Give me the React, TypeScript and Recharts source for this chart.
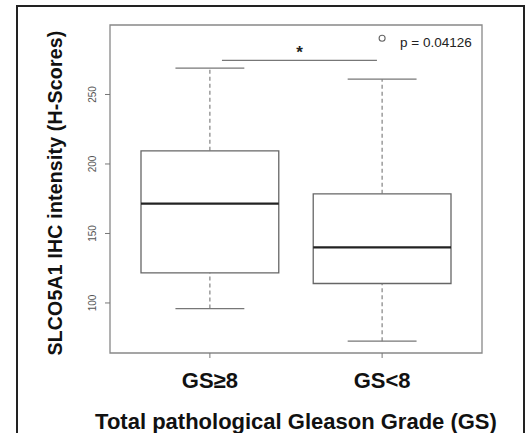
import { ComposedChart, XAxis, YAxis, ReferenceArea, ReferenceLine, Scatter } from 'recharts';

// box plot summary per group (H-scores)
const groups = ['GS≥8', 'GS<8'];
const positions = [1, 2];
const lowerWhisker = [96, 72.5];
const q1 = [121.7, 114];
const medians = [171.5, 140];
const q3 = [209.5, 178.5];
const upperWhisker = [269, 261];
const outliers = [{ x: 2, y: 290.5 }];

const yTicks = [100, 150, 200, 250];
const yDomain = [64, 300];
const xDomain = [0.42, 2.58];

const sigBar = { x1: 1.07, x2: 1.97, y: 274.5, label: '*' };
const pText = 'p = 0.04126';

const FONT = '"Liberation Sans", Arial, Helvetica, sans-serif';
const BOX = 0.4;
const CAP = 0.2;

const YTick = (props: any) => {
  const { x, y, payload } = props;
  return (
    <text x={x - 7} y={y} transform={`rotate(-90, ${x - 7}, ${y})`} textAnchor="middle"
      fontSize={10} fill="#555" fontFamily={FONT}>{payload.value}</text>
  );
};

export default function App() {
  return (
    <div style={{ position: 'absolute', left: 0, top: 0, width: 530, height: 433, background: '#fff', fontFamily: FONT }}>
      <div style={{ position: 'absolute', left: 16, top: 5, width: 505, height: 428, borderTop: '2px solid #222', borderLeft: '2px solid #222', borderRight: '2px solid #222' }} />
      <ComposedChart width={530} height={433} margin={{ top: 25, right: 48, bottom: 0, left: 0 }}>
        <XAxis type="number" dataKey="x" domain={xDomain} ticks={positions} allowDataOverflow
          tickFormatter={(v: number) => groups[positions.indexOf(v)] ?? ''}
          axisLine={false} tickSize={5} tickMargin={14} height={80}
          tickLine={{ stroke: '#777' }}
          tick={{ fontSize: 22, fontWeight: 'bold', fill: '#111', fontFamily: FONT }}
          label={{
            content: (p: any) => (
              <text x={p.viewBox.x + p.viewBox.width / 2} y={p.viewBox.y + 76} textAnchor="middle"
                fontSize={22} fontWeight="bold" fill="#111" fontFamily={FONT}>
                Total pathological Gleason Grade (GS)
              </text>
            ),
          }} />
        <YAxis type="number" domain={yDomain} ticks={yTicks} allowDataOverflow width={110}
          axisLine={false} tickSize={5} tickLine={{ stroke: '#777' }} tick={<YTick />}
          label={{
            content: () => (
              <text x={62} y={193} transform="rotate(-90, 62, 193)" textAnchor="middle"
                fontSize={19.5} fontWeight="bold" fill="#111" fontFamily={FONT} letterSpacing={0.2}>
                SLCO5A1 IHC intensity (H-Scores)
              </text>
            ),
          }} />

        {/* plot frame */}
        <ReferenceArea x1={xDomain[0]} x2={xDomain[1]} y1={yDomain[0]} y2={yDomain[1]}
          fill="none" stroke="#888" strokeWidth={1.3} />

        {positions.map((pos, i) => [
          <ReferenceLine key={`uw${i}`} segment={[{ x: pos, y: q3[i] }, { x: pos, y: upperWhisker[i] }]}
            stroke="#777" strokeDasharray="4 3" strokeWidth={1.1} />,
          <ReferenceLine key={`lw${i}`} segment={[{ x: pos, y: lowerWhisker[i] }, { x: pos, y: q1[i] }]}
            stroke="#777" strokeDasharray="4 3" strokeWidth={1.1} />,
          <ReferenceLine key={`uc${i}`} segment={[{ x: pos - CAP, y: upperWhisker[i] }, { x: pos + CAP, y: upperWhisker[i] }]}
            stroke="#777" strokeWidth={1.3} />,
          <ReferenceLine key={`lc${i}`} segment={[{ x: pos - CAP, y: lowerWhisker[i] }, { x: pos + CAP, y: lowerWhisker[i] }]}
            stroke="#777" strokeWidth={1.3} />,
          <ReferenceArea key={`b${i}`} x1={pos - BOX} x2={pos + BOX} y1={q1[i]} y2={q3[i]}
            fill="#fff" fillOpacity={1} stroke="#666" strokeWidth={1.3} />,
          <ReferenceLine key={`m${i}`} segment={[{ x: pos - BOX, y: medians[i] }, { x: pos + BOX, y: medians[i] }]}
            stroke="#222" strokeWidth={2.2} />,
        ])}

        <ReferenceLine segment={[{ x: sigBar.x1, y: sigBar.y }, { x: sigBar.x2, y: sigBar.y }]}
          stroke="#777" strokeWidth={1.3}
          label={{
            content: (p: any) => (
              <text x={p.viewBox.x + p.viewBox.width / 2} y={p.viewBox.y - 2} textAnchor="middle"
                fontSize={17} fontWeight="bold" fill="#222" fontFamily={FONT}>{sigBar.label}</text>
            ),
          }} />

        <Scatter data={outliers} dataKey="y" isAnimationActive={false}
          shape={(p: any) => <circle cx={p.cx} cy={p.cy} r={3} fill="none" stroke="#666" strokeWidth={1.1} />} />

        <text x={400} y={47} fontSize={13.5} fill="#222" fontFamily={FONT}>{pText}</text>
      </ComposedChart>
    </div>
  );
}
